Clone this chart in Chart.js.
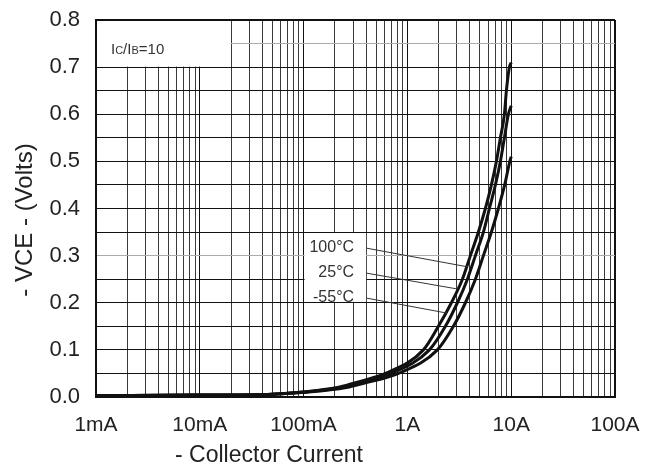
<!DOCTYPE html>
<html>
<head>
<meta charset="utf-8">
<script src="https://cdn.jsdelivr.net/npm/chart.js@4.4.0/dist/chart.umd.min.js"></script>
<style>
  html, body { margin: 0; padding: 0; background: #fff; }
  #wrap { width: 645px; height: 466px; }
</style>
</head>
<body>
<div id="wrap"><canvas id="vceChart" width="645" height="466"></canvas></div>
<script>
// Collector current (A) vs. saturation voltage (V), IC/IB = 10
const current100 = [0.001, 0.01, 0.05, 0.091, 0.212, 0.309, 0.614, 1.426, 1.989, 2.654, 3.388, 4.045, 4.831, 5.641, 6.447, 7.201, 7.870, 8.600, 8.990, 9.609, 10];
const vce100     = [0.003, 0.004, 0.006, 0.01, 0.02, 0.03, 0.05, 0.10, 0.15, 0.20, 0.25, 0.30, 0.35, 0.40, 0.45, 0.50, 0.55, 0.60, 0.65, 0.70, 0.71];

const current25 = [0.001, 0.01, 0.05, 0.0976, 0.231, 0.345, 0.701, 1.629, 2.323, 3.031, 3.784, 4.520, 5.397, 6.166, 7.044, 7.870, 8.600, 9.397, 10];
const vce25     = [0.003, 0.004, 0.006, 0.01, 0.02, 0.03, 0.05, 0.10, 0.15, 0.20, 0.25, 0.30, 0.35, 0.40, 0.45, 0.50, 0.55, 0.60, 0.618];

const currentM55 = [0.001, 0.01, 0.05, 0.104, 0.258, 0.394, 0.819, 1.945, 2.774, 3.622, 4.520, 5.397, 6.447, 7.527, 8.65, 9.70, 10];
const vceM55     = [0.003, 0.004, 0.006, 0.01, 0.02, 0.03, 0.05, 0.10, 0.15, 0.20, 0.25, 0.30, 0.35, 0.40, 0.45, 0.50, 0.51];

// axis ticks
const xDecades = [0.001, 0.01, 0.1, 1, 10, 100];
const xTickLabels = ['1mA', '10mA', '100mA', '1A', '10A', '100A'];
const xGridSteps = [1, 2, 3, 4, 5, 6, 7, 8, 9];
const yTickValues = [0, 0.1, 0.2, 0.3, 0.4, 0.5, 0.6, 0.7, 0.8];
const yTickLabels = ['0.0', '0.1', '0.2', '0.3', '0.4', '0.5', '0.6', '0.7', '0.8'];
const yGridStep = 0.05;

// temperature callouts: label, leader start (A, V), leader end on curve (A, V)
const tempLabels = ['100°C', '25°C', '-55°C'];
const leaderStartCurrent = 0.4;
const leaderStartVce = [0.316, 0.263, 0.21];
const leaderEndCurrent = [3.84, 3.07, 2.41];
const leaderEndVce = [0.276, 0.229, 0.178];

const FONT = "'Liberation Sans', Arial, sans-serif";
const TEXT = '#222';

function toPoints(xs, ys) {
    return xs.map((x, i) => ({ x: x, y: ys[i] }));
}

// every 1..9 x 10^n line for the log grid
const xGridValues = [];
xDecades.slice(0, -1).forEach(d => {
    xGridSteps.forEach(m => xGridValues.push(+(m * d).toPrecision(3)));
});
xGridValues.push(xDecades[xDecades.length - 1]);

const yGridValues = [];
for (let i = 0; i <= Math.round(0.8 / yGridStep); i++) {
    yGridValues.push(+(i * yGridStep).toFixed(2));
}

function isDecade(v) {
    return xDecades.findIndex(d => Math.abs(Math.log10(v) - Math.log10(d)) < 1e-6);
}

// white boxes under the notes, leader lines and texts
const notesPlugin = {
    id: 'notes',
    beforeDatasetsDraw(chart) {
        const { ctx, chartArea, scales } = chart;
        const xs = scales.x, ys = scales.y;
        ctx.save();
        ctx.fillStyle = '#fff';
        // IC/IB box
        const bx1 = xs.getPixelForValue(0.02);
        const by1 = ys.getPixelForValue(0.7);
        ctx.fillRect(chartArea.left + 1, chartArea.top + 1, bx1 - chartArea.left - 1.5, by1 - chartArea.top - 1.5);
        // temperature label box
        const tx0 = xs.getPixelForValue(0.1) + 1;
        const tx1 = xs.getPixelForValue(leaderStartCurrent);
        const ty0 = ys.getPixelForValue(0.35) + 1;
        const ty1 = ys.getPixelForValue(0.2) - 1;
        ctx.fillRect(tx0, ty0, tx1 - tx0, ty1 - ty0);
        ctx.restore();
    },
    afterDatasetsDraw(chart) {
        const { ctx, chartArea, scales } = chart;
        const xs = scales.x, ys = scales.y;
        ctx.save();

        // ratio note: I with small-cap subscripts
        ctx.fillStyle = '#333';
        ctx.textBaseline = 'alphabetic';
        let px = chartArea.left + 15;
        const py = chartArea.top + 34;
        const parts = [['I', 15], ['C', 11], ['/I', 15], ['B', 11], ['=10', 15]];
        parts.forEach(p => {
            ctx.font = p[1] + 'px ' + FONT;
            ctx.fillText(p[0], px, py);
            px += ctx.measureText(p[0]).width;
        });

        // temperature labels and leaders
        const sx = xs.getPixelForValue(leaderStartCurrent);
        ctx.font = '16px ' + FONT;
        ctx.textAlign = 'right';
        ctx.textBaseline = 'middle';
        ctx.strokeStyle = '#333';
        ctx.lineWidth = 1;
        tempLabels.forEach((lab, i) => {
            const sy = ys.getPixelForValue(leaderStartVce[i]);
            ctx.fillText(lab, sx - 12, sy);
            ctx.beginPath();
            ctx.moveTo(sx, sy);
            ctx.lineTo(xs.getPixelForValue(leaderEndCurrent[i]), ys.getPixelForValue(leaderEndVce[i]));
            ctx.stroke();
        });
        ctx.restore();
    },
    afterDraw(chart) {
        const { ctx } = chart;
        ctx.save();
        ctx.fillStyle = TEXT;
        ctx.font = '23px ' + FONT;
        ctx.textAlign = 'center';
        ctx.textBaseline = 'alphabetic';
        ctx.fillText('- Collector Current', 269, 462);
        ctx.translate(32, 220);
        ctx.rotate(-Math.PI / 2);
        ctx.font = '24px ' + FONT;
        ctx.fillText('- VCE - (Volts)', 0, 0);
        ctx.restore();
    }
};

const curveStyle = {
    borderColor: '#111',
    borderWidth: 3,
    pointRadius: 0,
    fill: false,
    cubicInterpolationMode: 'monotone'
};

new Chart(document.getElementById('vceChart'), {
    type: 'line',
    data: {
        datasets: [
            Object.assign({ label: tempLabels[0], data: toPoints(current100, vce100) }, curveStyle),
            Object.assign({ label: tempLabels[1], data: toPoints(current25, vce25) }, curveStyle),
            Object.assign({ label: tempLabels[2], data: toPoints(currentM55, vceM55) }, curveStyle)
        ]
    },
    options: {
        responsive: false,
        animation: false,
        layout: { padding: { left: 0, right: 30, top: 20, bottom: 0 } },
        plugins: {
            legend: { display: false },
            tooltip: { enabled: false }
        },
        scales: {
            x: {
                type: 'logarithmic',
                min: 0.001,
                max: 100,
                afterBuildTicks: scale => {
                    scale.ticks = xGridValues.map(v => ({ value: v }));
                },
                afterFit: scale => {
                    scale.height = 69;
                    scale.paddingLeft = 0;
                    scale.paddingRight = 0;
                },
                ticks: {
                    autoSkip: false,
                    maxRotation: 0,
                    padding: 16,
                    color: TEXT,
                    font: { family: FONT, size: 21 },
                    callback: v => {
                        const i = isDecade(v);
                        return i >= 0 ? xTickLabels[i] : '';
                    }
                },
                grid: {
                    drawTicks: false,
                    color: ctx => isDecade(ctx.tick.value) >= 0 ? '#111' : '#3a3a3a',
                    lineWidth: ctx => ctx.tick.value === 100 ? 2 : 1
                },
                border: { display: true, color: '#111', width: 2 }
            },
            y: {
                min: 0,
                max: 0.8,
                afterBuildTicks: scale => {
                    scale.ticks = yGridValues.map(v => ({ value: v }));
                },
                afterFit: scale => {
                    scale.width = 96;
                    scale.paddingTop = 0;
                    scale.paddingBottom = 0;
                },
                ticks: {
                    autoSkip: false,
                    padding: 16,
                    color: TEXT,
                    font: { family: FONT, size: 22 },
                    callback: v => {
                        const i = yTickValues.findIndex(t => Math.abs(t - v) < 1e-6);
                        return i >= 0 ? yTickLabels[i] : '';
                    }
                },
                grid: {
                    drawTicks: false,
                    color: ctx => {
                        const v = ctx.tick.value;
                        return (Math.abs(v - 0.3) < 1e-6 || Math.abs(v - 0.75) < 1e-6) ? '#aaa' : '#111';
                    },
                    lineWidth: ctx => Math.abs(ctx.tick.value - 0.8) < 1e-6 ? 2 : 1
                },
                border: { display: true, color: '#111', width: 2 }
            }
        }
    },
    plugins: [notesPlugin]
});
</script>
</body>
</html>
